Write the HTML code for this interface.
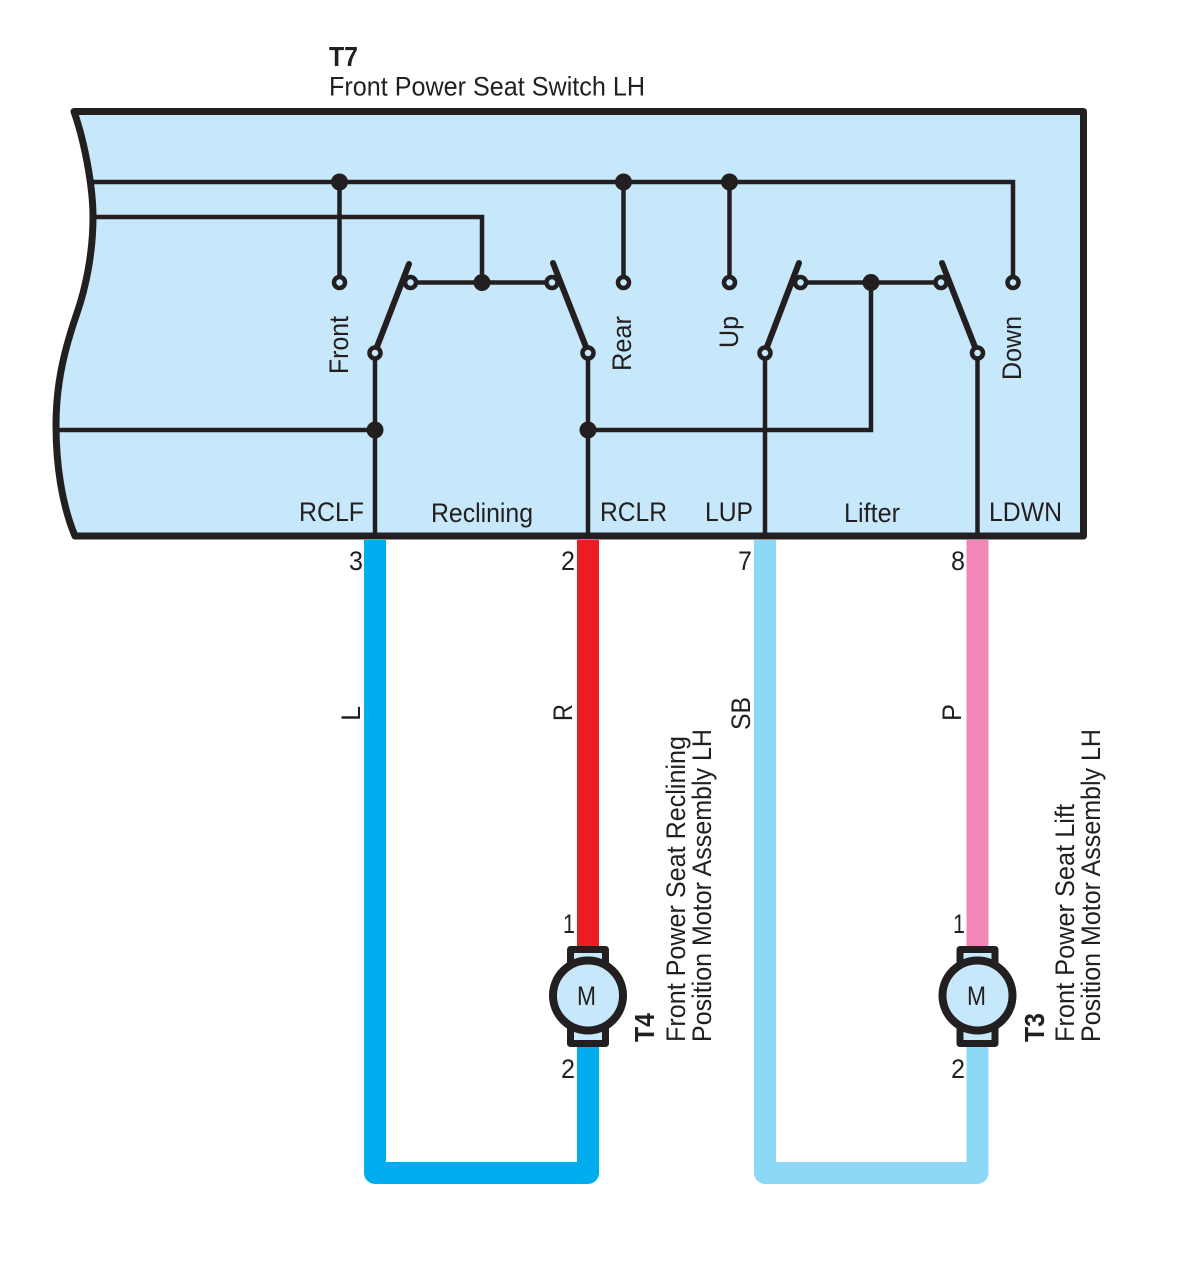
<!DOCTYPE html>
<html>
<head>
<meta charset="utf-8">
<style>
html,body{margin:0;padding:0;background:#fff;width:1183px;height:1276px;overflow:hidden}
svg{display:block}
text{font-family:"Liberation Sans",sans-serif;fill:#231f20;font-size:27px}
.b{font-weight:bold;font-size:28px}
.w{fill:none;stroke:#231f20;stroke-width:4.5}
.s{fill:none;stroke:#231f20;stroke-width:6;stroke-linecap:round}
.o{fill:#c7e8fa;stroke:#231f20;stroke-width:4.5}
.d{fill:#231f20}
</style>
</head>
<body>
<svg width="1183" height="1276" viewBox="0 0 1183 1276" xmlns="http://www.w3.org/2000/svg">
<rect width="1183" height="1276" fill="#fff"/>
<text x="329" y="66" class="b" textLength="29" lengthAdjust="spacingAndGlyphs">T7</text>
<text x="329" y="95.500" textLength="316" lengthAdjust="spacingAndGlyphs">Front Power Seat Switch LH</text>

<path d="M74,111.500 L1083.500,111.500 L1083.500,536 L75,536 C62,505 56,465 56,425 C56,380 66,345 77,313 C85,290 93,255 93,217 C93,185 84,140 74,111.500 Z" fill="#c7e8fa" stroke="#231f20" stroke-width="7" stroke-linejoin="round"/>

<path class="w" d="M92,182 H1013 V282"/>
<path class="w" d="M92,217 H482 V282"/>
<path class="w" d="M339.500,182 V282 M623.500,182 V282 M729.500,182 V282"/>
<path class="w" d="M410,282.500 H552 M800,282.500 H941"/>
<path class="w" d="M57,430 H375 M588,430 H871 V282"/>
<path class="w" d="M375,353 V536 M588,353 V536 M765,353 V536 M977.500,353 V536"/>

<circle class="o" cx="339.500" cy="282.500" r="5.500"/>
<circle class="o" cx="623.500" cy="282.500" r="5.500"/>
<circle class="o" cx="729.500" cy="282.500" r="5.500"/>
<circle class="o" cx="1013" cy="282.500" r="5.500"/>
<circle class="o" cx="410.500" cy="282.500" r="5.500"/>
<circle class="o" cx="552" cy="282.500" r="5.500"/>
<circle class="o" cx="800.500" cy="282.500" r="5.500"/>
<circle class="o" cx="941" cy="282.500" r="5.500"/>

<path class="s" d="M375,352 L409,264"/>
<path class="s" d="M588,352 L553,263"/>
<path class="s" d="M765,352 L799,263"/>
<path class="s" d="M977,352 L942,263"/>

<circle class="o" cx="375" cy="353" r="5.500"/>
<circle class="o" cx="588" cy="353" r="5.500"/>
<circle class="o" cx="765" cy="353" r="5.500"/>
<circle class="o" cx="977.500" cy="353" r="5.500"/>

<circle class="d" cx="339.500" cy="182" r="8.500"/>
<circle class="d" cx="623.500" cy="182" r="8.500"/>
<circle class="d" cx="729.500" cy="182" r="8.500"/>
<circle class="d" cx="482" cy="282.500" r="8.500"/>
<circle class="d" cx="871" cy="282.500" r="8.500"/>
<circle class="d" cx="375" cy="430" r="8.500"/>
<circle class="d" cx="588" cy="430" r="8.500"/>

<text transform="translate(348,374) rotate(-90)" textLength="58" lengthAdjust="spacingAndGlyphs">Front</text>
<text transform="translate(631,371) rotate(-90)" textLength="55" lengthAdjust="spacingAndGlyphs">Rear</text>
<text transform="translate(738,348) rotate(-90)" textLength="32" lengthAdjust="spacingAndGlyphs">Up</text>
<text transform="translate(1021,380) rotate(-90)" textLength="64" lengthAdjust="spacingAndGlyphs">Down</text>

<text x="299" y="521" textLength="65" lengthAdjust="spacingAndGlyphs">RCLF</text>
<text x="431" y="522" textLength="102" lengthAdjust="spacingAndGlyphs">Reclining</text>
<text x="600" y="521" textLength="67" lengthAdjust="spacingAndGlyphs">RCLR</text>
<text x="705" y="521" textLength="48" lengthAdjust="spacingAndGlyphs">LUP</text>
<text x="844" y="522" textLength="56" lengthAdjust="spacingAndGlyphs">Lifter</text>
<text x="989" y="521" textLength="73" lengthAdjust="spacingAndGlyphs">LDWN</text>

<path d="M375,540 V1173 H588 V1046" fill="none" stroke="#00aeef" stroke-width="22" stroke-linejoin="round"/>
<path d="M588,540 V950" fill="none" stroke="#ed1c24" stroke-width="22"/>
<path d="M765,540 V1173 H977.500 V1046" fill="none" stroke="#8dd7f7" stroke-width="22" stroke-linejoin="round"/>
<path d="M977.500,540 V950" fill="none" stroke="#f287b7" stroke-width="22"/>

<text x="349" y="570" textLength="14" lengthAdjust="spacingAndGlyphs">3</text>
<text x="561" y="570" textLength="14" lengthAdjust="spacingAndGlyphs">2</text>
<text x="738" y="570" textLength="14" lengthAdjust="spacingAndGlyphs">7</text>
<text x="951" y="570" textLength="14" lengthAdjust="spacingAndGlyphs">8</text>
<text x="563" y="933" textLength="12" lengthAdjust="spacingAndGlyphs">1</text>
<text x="953" y="933" textLength="12" lengthAdjust="spacingAndGlyphs">1</text>
<text x="561" y="1078" textLength="14" lengthAdjust="spacingAndGlyphs">2</text>
<text x="951" y="1078" textLength="14" lengthAdjust="spacingAndGlyphs">2</text>

<text transform="translate(360,721) rotate(-90)" textLength="15" lengthAdjust="spacingAndGlyphs">L</text>
<text transform="translate(572,721) rotate(-90)" textLength="17" lengthAdjust="spacingAndGlyphs">R</text>
<text transform="translate(750,730) rotate(-90)" textLength="33" lengthAdjust="spacingAndGlyphs">SB</text>
<text transform="translate(961,721) rotate(-90)" textLength="17" lengthAdjust="spacingAndGlyphs">P</text>

<g>
<rect x="570.500" y="949.500" width="35" height="94" fill="#c7e8fa" stroke="#231f20" stroke-width="7" stroke-linejoin="round"/>
<circle cx="588" cy="995.500" r="35" fill="#c7e8fa" stroke="#231f20" stroke-width="8"/>
<text x="577" y="1005" textLength="19" lengthAdjust="spacingAndGlyphs">M</text>
</g>
<g>
<rect x="960" y="949.500" width="35" height="94" fill="#c7e8fa" stroke="#231f20" stroke-width="7" stroke-linejoin="round"/>
<circle cx="977.500" cy="995.500" r="35" fill="#c7e8fa" stroke="#231f20" stroke-width="8"/>
<text x="967" y="1005" textLength="19" lengthAdjust="spacingAndGlyphs">M</text>
</g>

<text class="b" transform="translate(654,1042) rotate(-90)" textLength="29" lengthAdjust="spacingAndGlyphs">T4</text>
<text transform="translate(685,1042) rotate(-90)" textLength="306" lengthAdjust="spacingAndGlyphs">Front Power Seat Reclining</text>
<text transform="translate(711,1042) rotate(-90)" textLength="313" lengthAdjust="spacingAndGlyphs">Position Motor Assembly LH</text>

<text class="b" transform="translate(1044,1042) rotate(-90)" textLength="29" lengthAdjust="spacingAndGlyphs">T3</text>
<text transform="translate(1074,1042) rotate(-90)" textLength="238" lengthAdjust="spacingAndGlyphs">Front Power Seat Lift</text>
<text transform="translate(1100,1042) rotate(-90)" textLength="313" lengthAdjust="spacingAndGlyphs">Position Motor Assembly LH</text>
</svg>
</body>
</html>
